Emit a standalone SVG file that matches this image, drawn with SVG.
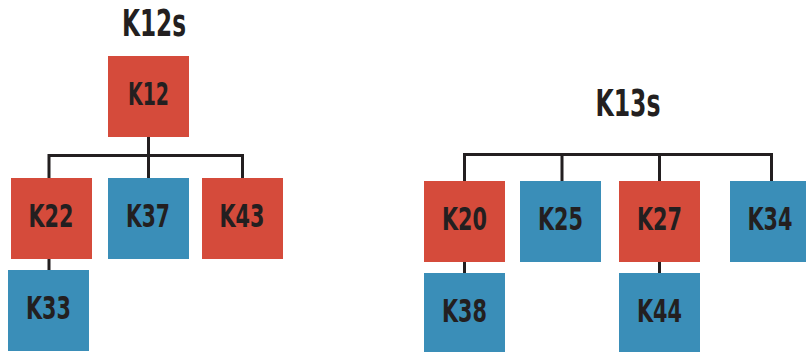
<svg xmlns="http://www.w3.org/2000/svg" width="806" height="352" viewBox="0 0 806 352">
<style>
.r{fill:#d54b3b}
.b{fill:#3a8eb8}
text{font-family:"Liberation Sans Narrow","DejaVu Sans Condensed","Liberation Sans",sans-serif;font-stretch:condensed;font-weight:bold;fill:#231f20;text-anchor:middle}
.n{font-size:32px}
.t{font-size:37px}
.c{fill:none;stroke:#231f20;stroke-width:3}
</style>
<rect width="806" height="352" fill="#ffffff"/>
<text class="t" x="154" y="36" textLength="64" lengthAdjust="spacingAndGlyphs">K12s</text>
<text class="t" x="628" y="116" textLength="65" lengthAdjust="spacingAndGlyphs">K13s</text>
<g id="connectors">
<path class="c" d="M148.5 136V155.5M49 155.5H242.5M49 154V178M148.5 154V178M242.5 154V178M49 258.5V270"/>
<path class="c" d="M464.5 154.5H771.5M464.5 153V181M562 153V181M659.5 153V181M771.5 153V181M464.5 261.5V273M659.5 261.5V273"/>
</g>
<g id="K12"><rect class="r" x="108" y="56" width="81" height="81"/><text class="n" x="148.5" y="105" textLength="41" lengthAdjust="spacingAndGlyphs">K12</text></g>
<g id="K22"><rect class="r" x="11" y="178" width="81" height="81"/><text class="n" x="51" y="227" textLength="45" lengthAdjust="spacingAndGlyphs">K22</text></g>
<g id="K37"><rect class="b" x="108" y="178" width="81" height="81"/><text class="n" x="148" y="227" textLength="44" lengthAdjust="spacingAndGlyphs">K37</text></g>
<g id="K43"><rect class="r" x="202" y="178" width="81" height="81"/><text class="n" x="242" y="227" textLength="45" lengthAdjust="spacingAndGlyphs">K43</text></g>
<g id="K33"><rect class="b" x="8" y="270" width="81" height="81"/><text class="n" x="48.5" y="319" textLength="45" lengthAdjust="spacingAndGlyphs">K33</text></g>
<g id="K20"><rect class="r" x="424" y="181" width="81" height="81"/><text class="n" x="464.5" y="230" textLength="45" lengthAdjust="spacingAndGlyphs">K20</text></g>
<g id="K25"><rect class="b" x="520" y="181" width="81" height="81"/><text class="n" x="560.5" y="230" textLength="45" lengthAdjust="spacingAndGlyphs">K25</text></g>
<g id="K27"><rect class="r" x="619" y="181" width="81" height="81"/><text class="n" x="659.5" y="230" textLength="45" lengthAdjust="spacingAndGlyphs">K27</text></g>
<g id="K34"><rect class="b" x="730" y="181" width="76" height="81"/><text class="n" x="770" y="230" textLength="45" lengthAdjust="spacingAndGlyphs">K34</text></g>
<g id="K38"><rect class="b" x="424" y="273" width="81" height="81"/><text class="n" x="464.5" y="322" textLength="45" lengthAdjust="spacingAndGlyphs">K38</text></g>
<g id="K44"><rect class="b" x="619" y="273" width="81" height="81"/><text class="n" x="659.5" y="322" textLength="45" lengthAdjust="spacingAndGlyphs">K44</text></g>
</svg>
